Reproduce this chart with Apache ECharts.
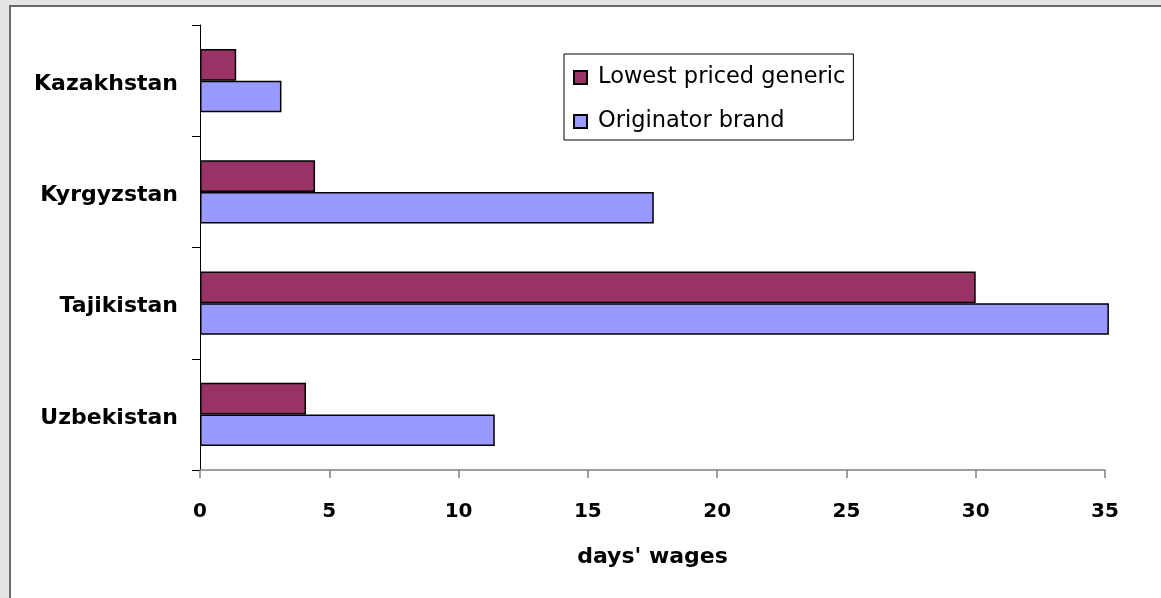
<!DOCTYPE html>
<html>
<head>
<meta charset="utf-8">
<script src="https://cdn.jsdelivr.net/npm/echarts@6/dist/echarts.min.js"></script>
<style>
  html, body { margin: 0; padding: 0; background: #e4e4e4; }
  #chart { width: 1161px; height: 598px; }
</style>
</head>
<body>
<div id="chart"></div>
<script>
const categories = ['Kazakhstan', 'Kyrgyzstan', 'Tajikistan', 'Uzbekistan'];
const seriesNames = ['Lowest priced generic', 'Originator brand'];
const genericValues = [1.4, 4.45, 30.0, 4.1];
const originatorValues = [3.15, 17.55, 35.15, 11.4];
const xTicks = [0, 5, 10, 15, 20, 25, 30, 35];
const xAxisName = "days' wages";

const chart = echarts.init(document.getElementById('chart'), null, { renderer: 'canvas' });
const font = 'DejaVu Sans';
chart.setOption({
  animation: false,
  backgroundColor: '#e4e4e4',
  graphic: [{
    type: 'rect', z: -10, silent: true,
    shape: { x: 10, y: 6, width: 1200, height: 700 },
    style: { fill: '#ffffff', stroke: '#6a6a6a', lineWidth: 2 }
  }],
  grid: { left: 200, right: 56, top: 25, bottom: 128, containLabel: false },
  legend: {
    orient: 'vertical', left: 564, top: 54,
    padding: [11, 8, 6, 9],
    itemWidth: 13, itemHeight: 13, itemGap: 19,
    backgroundColor: '#ffffff', borderColor: '#000000', borderWidth: 1,
    icon: 'rect',
    textStyle: { fontFamily: font, fontSize: 22.5, lineHeight: 25, color: '#000', padding: [0, 0, 0, 6] },
    data: seriesNames
  },
  xAxis: {
    type: 'value', min: xTicks[0], max: xTicks[xTicks.length - 1], interval: 5,
    name: xAxisName, nameLocation: 'middle', nameGap: 76,
    nameTextStyle: { fontFamily: font, fontWeight: 'bold', fontSize: 22, color: '#000' },
    axisLine: { show: true, lineStyle: { color: '#808080', width: 1.5 } },
    axisTick: { show: true, length: 8, lineStyle: { color: '#808080', width: 1.5 } },
    splitLine: { show: false },
    axisLabel: { fontFamily: font, fontWeight: 'bold', fontSize: 20, color: '#000', margin: 32 }
  },
  yAxis: {
    type: 'category', data: categories, inverse: true,
    axisLine: { show: true, lineStyle: { color: '#000', width: 1 } },
    axisTick: { show: true, length: 8, lineStyle: { color: '#000', width: 1 } },
    axisLabel: {
      margin: 22,
      formatter: '{c|{value}}',
      rich: { c: { fontFamily: font, fontWeight: 'bold', fontSize: 22, color: '#000', padding: [7, 0, 0, 0] } }
    }
  },
  series: [
    {
      name: seriesNames[0], type: 'bar', data: genericValues,
      barGap: '0%', barCategoryGap: '43%', clip: false,
      itemStyle: { color: '#993366', borderColor: '#000', borderWidth: 1.5 }
    },
    {
      name: seriesNames[1], type: 'bar', data: originatorValues,
      barGap: '0%', barCategoryGap: '43%', clip: false,
      itemStyle: { color: '#9999ff', borderColor: '#000', borderWidth: 1.5 }
    }
  ]
});
</script>
</body>
</html>
